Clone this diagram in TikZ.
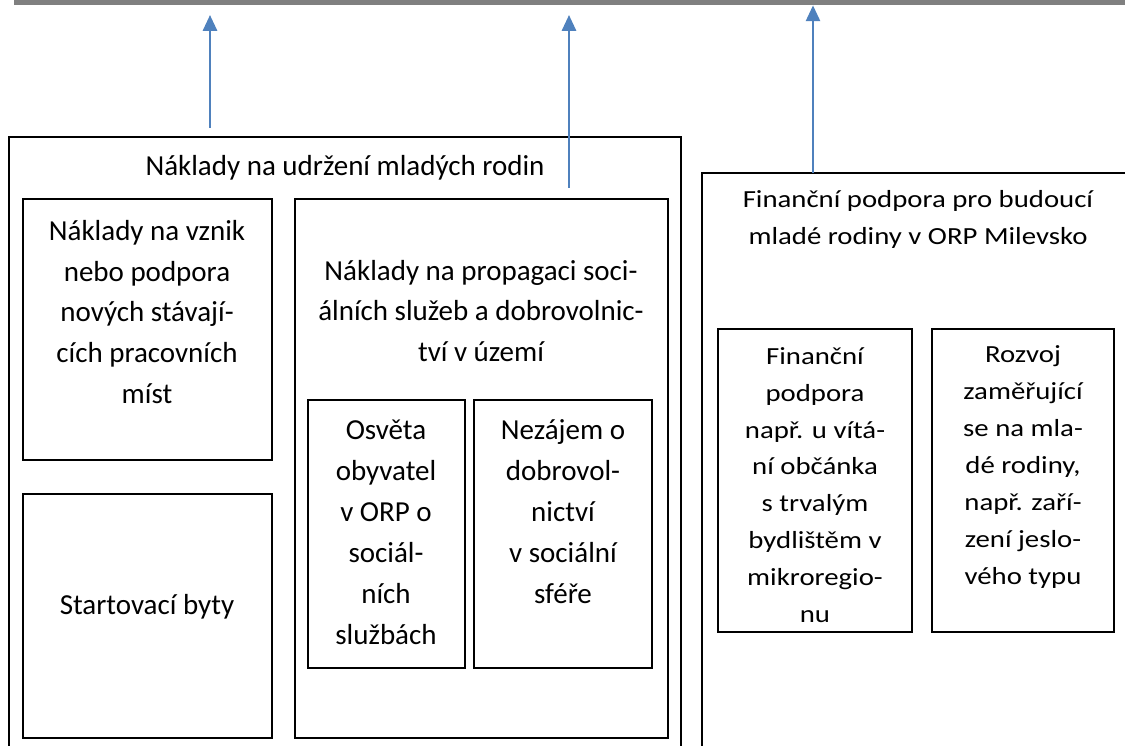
\documentclass[tikz,border=0pt]{standalone}
\usepackage{fontspec}
\setmainfont{Carlito}
\newfontfamily\widefont[FakeStretch=1.17]{Carlito}
\usetikzlibrary{fit,arrows.meta}
\definecolor{arrowblue}{HTML}{4F81BD}
\definecolor{bargray}{HTML}{808080}

\begin{document}
\begin{tikzpicture}[x=0.02cm,y=-0.02cm,
	box/.style={draw,line width=1.1pt,inner sep=0pt},
	txt/.style={align=center,inner sep=0pt,font=\fontsize{16.5}{23.3}\selectfont},
	wtxt/.style={align=center,inner sep=0pt,font=\widefont\fontsize{14}{21}\selectfont},
	up/.style={draw=arrowblue,line width=1.4pt,-{Triangle[length=9pt,width=8pt]}}]
	\useasboundingbox (0,0) rectangle (1125,746);
	\clip (0,0) rectangle (1125,746);

	% top bar
	\node[fill=bargray,inner sep=0pt,fit={(14,0) (1130,5)}] (bar) {};

	% left part
	\node[box,fit={(9,137) (681,760)}] (udrzeni) {};
	\node[txt] (udrzenitxt) at (345,168) {Náklady na udržení mladých rodin};
	\node[box,fit={(23,199) (272,460)}] (vznik) {};
	\node[txt] (vzniktxt) at (147,312) {Náklady na vznik\\nebo podpora\\nových stávají-\\cích pracovních\\míst};
	\node[box,fit={(23,494) (272,738)}] (byty) {};
	\node[txt] (bytytxt) at (147,607) {Startovací byty};
	\node[box,fit={(295,199) (668,738)}] (propagace) {};
	\node[txt] (propagacetxt) at (481,311) {Náklady na propagaci soci-\\álních služeb a dobrovolnic-\\tví v území};
	\node[box,fit={(308,400) (465,668)}] (osveta) {};
	\node[txt] (osvetatxt) at (386,532) {Osvěta\\obyvatel\\v ORP o\\sociál-\\ních\\službách};
	\node[box,fit={(474,400) (652,668)}] (nezajem) {};
	\node[txt] (nezajemtxt) at (563,512) {Nezájem o\\dobrovol-\\nictví\\v sociální\\sféře};

	% right part
	\node[box,fit={(702,173) (1140,760)}] (podpora) {};
	\node[wtxt] (podporatxt) at (918,219) {Finanční podpora pro budoucí\\mladé rodiny v ORP Milevsko};
	\node[box,fit={(718,329) (912,632)}] (vitani) {};
	\node[wtxt] (vitanitxt) at (815,485) {Finanční\\podpora\\např. u vítá-\\ní občánka\\s trvalým\\bydlištěm v\\mikroregio-\\nu};
	\node[box,fit={(932,329) (1114,632)}] (rozvoj) {};
	\node[wtxt] (rozvojtxt) at (1023,467) {Rozvoj\\zaměřující\\se na mla-\\dé rodiny,\\např. zaří-\\zení jeslo-\\vého typu};

	% arrows
	\coordinate (a1s) at (210,128);
	\coordinate (a1e) at (210,15);
	\coordinate (a2s) at (569,188);
	\coordinate (a2e) at (569,15);
	\coordinate (a3s) at (813,173);
	\draw[up] (a1s) -- (a1e);
	\draw[up] (a2s) -- (a2e);
	\draw[up] (a3s) -- (a3s |- bar.south);
\end{tikzpicture}
\end{document}
